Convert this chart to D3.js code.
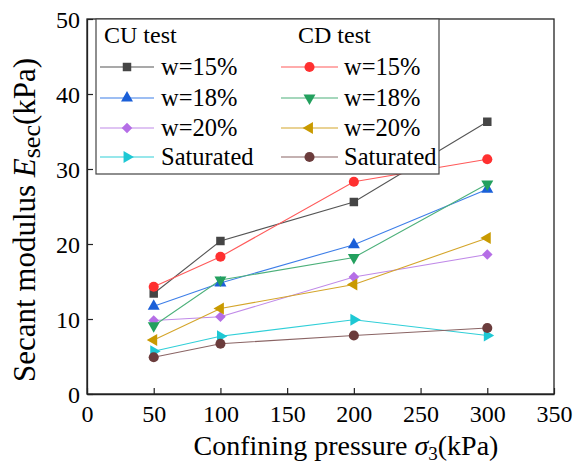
<!DOCTYPE html>
<html>
<head>
<meta charset="utf-8">
<script src="https://cdn.jsdelivr.net/npm/d3@7"></script>
<style>
body{margin:0;background:#fff;}
svg{display:block;}
text{font-family:"Liberation Serif","Times New Roman",serif;fill:#000;}
</style>
</head>
<body>
<svg id="chart" width="575" height="463"></svg>
<script>
const pressures = [50, 100, 200, 300];
const xTicks = [0, 50, 100, 150, 200, 250, 300, 350];
const yTicks = [0, 10, 20, 30, 40, 50];

const cuW15 = [13.4, 20.4, 25.6, 36.3];
const cuW18 = [11.7, 14.8, 19.9, 27.3];
const cuW20 = [9.8, 10.3, 15.6, 18.6];
const cuSat = [5.7, 7.7, 9.9, 7.8];
const cdW15 = [14.3, 18.3, 28.3, 31.3];
const cdW18 = [9.1, 15.2, 18.2, 28.0];
const cdW20 = [7.2, 11.4, 14.6, 20.8];
const cdSat = [4.9, 6.7, 7.8, 8.8];

const seriesNames = ["w=15%", "w=18%", "w=20%", "Saturated"];

const series = [
  {group:"CU", name:seriesNames[0], values:cuW15, line:"#555555", fill:"#454545", sym:"square"},
  {group:"CU", name:seriesNames[1], values:cuW18, line:"#3d7ee8", fill:"#1a5fd8", sym:"up"},
  {group:"CU", name:seriesNames[2], values:cuW20, line:"#c08ae8", fill:"#b56ee6", sym:"diamond"},
  {group:"CU", name:seriesNames[3], values:cuSat, line:"#30cfd8", fill:"#1ec8d4", sym:"right"},
  {group:"CD", name:seriesNames[0], values:cdW15, line:"#ff5a5a", fill:"#ff3030", sym:"circle"},
  {group:"CD", name:seriesNames[1], values:cdW18, line:"#4cb07a", fill:"#23a05e", sym:"down"},
  {group:"CD", name:seriesNames[2], values:cdW20, line:"#d4a52a", fill:"#c99a00", sym:"left"},
  {group:"CD", name:seriesNames[3], values:cdSat, line:"#8a6464", fill:"#6b3c3c", sym:"circle"}
];

const FONT = '"Liberation Serif","Times New Roman",serif';
const svg = d3.select("#chart");
const m = {left:87, right:554, top:19, bottom:394};
const x = d3.scaleLinear().domain([0,350]).range([m.left, m.right]);
const y = d3.scaleLinear().domain([0,50]).range([m.bottom, m.top]);

// frame
svg.append("rect").attr("x",m.left).attr("y",m.top)
  .attr("width",m.right-m.left).attr("height",m.bottom-m.top)
  .attr("fill","none").attr("stroke","#222").attr("stroke-width",1.3);

// axes
const xAxis = d3.axisBottom(x).tickValues(xTicks).tickSizeInner(-6).tickSizeOuter(0).tickPadding(12);
const gx = svg.append("g").attr("transform",`translate(0,${m.bottom})`).call(xAxis)
  .attr("font-family",FONT).attr("font-size",24);
gx.select(".domain").attr("stroke","#222").attr("stroke-width",1.3);
gx.selectAll(".tick line").attr("stroke","#222").attr("stroke-width",1.2);
gx.selectAll("text").attr("fill","#111").attr("dy","0").attr("y",28);

const yAxis = d3.axisLeft(y).tickValues(yTicks).tickSizeInner(-6).tickSizeOuter(0).tickPadding(8);
const gy = svg.append("g").attr("transform",`translate(${m.left},0)`).call(yAxis)
  .attr("font-family",FONT).attr("font-size",24);
gy.select(".domain").attr("stroke","#222").attr("stroke-width",1.3);
gy.selectAll(".tick line").attr("stroke","#222").attr("stroke-width",1.2);
gy.selectAll("text").attr("fill","#111").attr("x",-7).attr("dy","0.34em");

function symPath(sym){
  switch(sym){
    case "square": return {p:d3.symbol(d3.symbolSquare, 72)(), r:0};
    case "circle": return {p:d3.symbol(d3.symbolCircle, 80)(), r:0};
    case "diamond": return {p:d3.symbol(d3.symbolSquare, 56)(), r:45};
    case "up": return {p:d3.symbol(d3.symbolTriangle, 62)(), r:0};
    case "down": return {p:d3.symbol(d3.symbolTriangle, 62)(), r:180};
    case "left": return {p:d3.symbol(d3.symbolTriangle, 62)(), r:-90};
    case "right": return {p:d3.symbol(d3.symbolTriangle, 62)(), r:90};
  }
}

const line = d3.line().x(d=>x(d[0])).y(d=>y(d[1]));
const plot = svg.append("g");
series.forEach(s=>{
  const pts = pressures.map((p,i)=>[p, s.values[i]]);
  plot.append("path").datum(pts).attr("d",line)
    .attr("fill","none").attr("stroke",s.line).attr("stroke-width",1.1);
});
series.forEach(s=>{
  const sp = symPath(s.sym);
  pressures.forEach((p,i)=>{
    plot.append("path").attr("d",sp.p)
      .attr("transform",`translate(${x(p)},${y(s.values[i])}) rotate(${sp.r})`)
      .attr("fill",s.fill);
  });
});

// legend
const lg = svg.append("g");
lg.append("rect").attr("x",96).attr("y",19).attr("width",343).attr("height",155)
  .attr("fill","#fff").attr("stroke","#444").attr("stroke-width",1.2);
lg.append("text").attr("x",104).attr("y",43).style("font-size","24px").text("CU test");
lg.append("text").attr("x",298).attr("y",43).style("font-size","24px").text("CD test");
const rowY = [67, 98, 128, 157];
series.forEach((s,k)=>{
  const col = s.group==="CU" ? 0 : 1;
  const row = k % 4;
  const x0 = col===0 ? 100 : 281;
  const x1 = col===0 ? 154 : 338;
  const cy = rowY[row];
  lg.append("line").attr("x1",x0).attr("x2",x1).attr("y1",cy).attr("y2",cy)
    .attr("stroke",s.line).attr("stroke-width",1.1);
  const sp = symPath(s.sym);
  lg.append("path").attr("d",sp.p)
    .attr("transform",`translate(${(x0+x1)/2},${cy}) rotate(${sp.r})`)
    .attr("fill",s.fill);
  lg.append("text").attr("x", col===0 ? 161 : 344).attr("y", cy+8)
    .style("font-size","24.5px").text(s.name);
});

// axis titles
const xt = svg.append("text").attr("x",346).attr("y",455)
  .attr("text-anchor","middle").style("font-size","28px");
xt.append("tspan").text("Confining pressure ");
xt.append("tspan").style("font-style","italic").text("σ");
xt.append("tspan").attr("dy",5).style("font-size","19px").text("3");
xt.append("tspan").attr("dy",-5).text("(kPa)");

const yt = svg.append("text").attr("transform",`translate(35,220) rotate(-90)`)
  .attr("text-anchor","middle").style("font-size","31px");
yt.append("tspan").text("Secant modulus ");
yt.append("tspan").style("font-style","italic").text("E");
yt.append("tspan").attr("dy",5).style("font-size","26px").text("sec");
yt.append("tspan").attr("dy",-5).text("(kPa)");
</script>
</body>
</html>
